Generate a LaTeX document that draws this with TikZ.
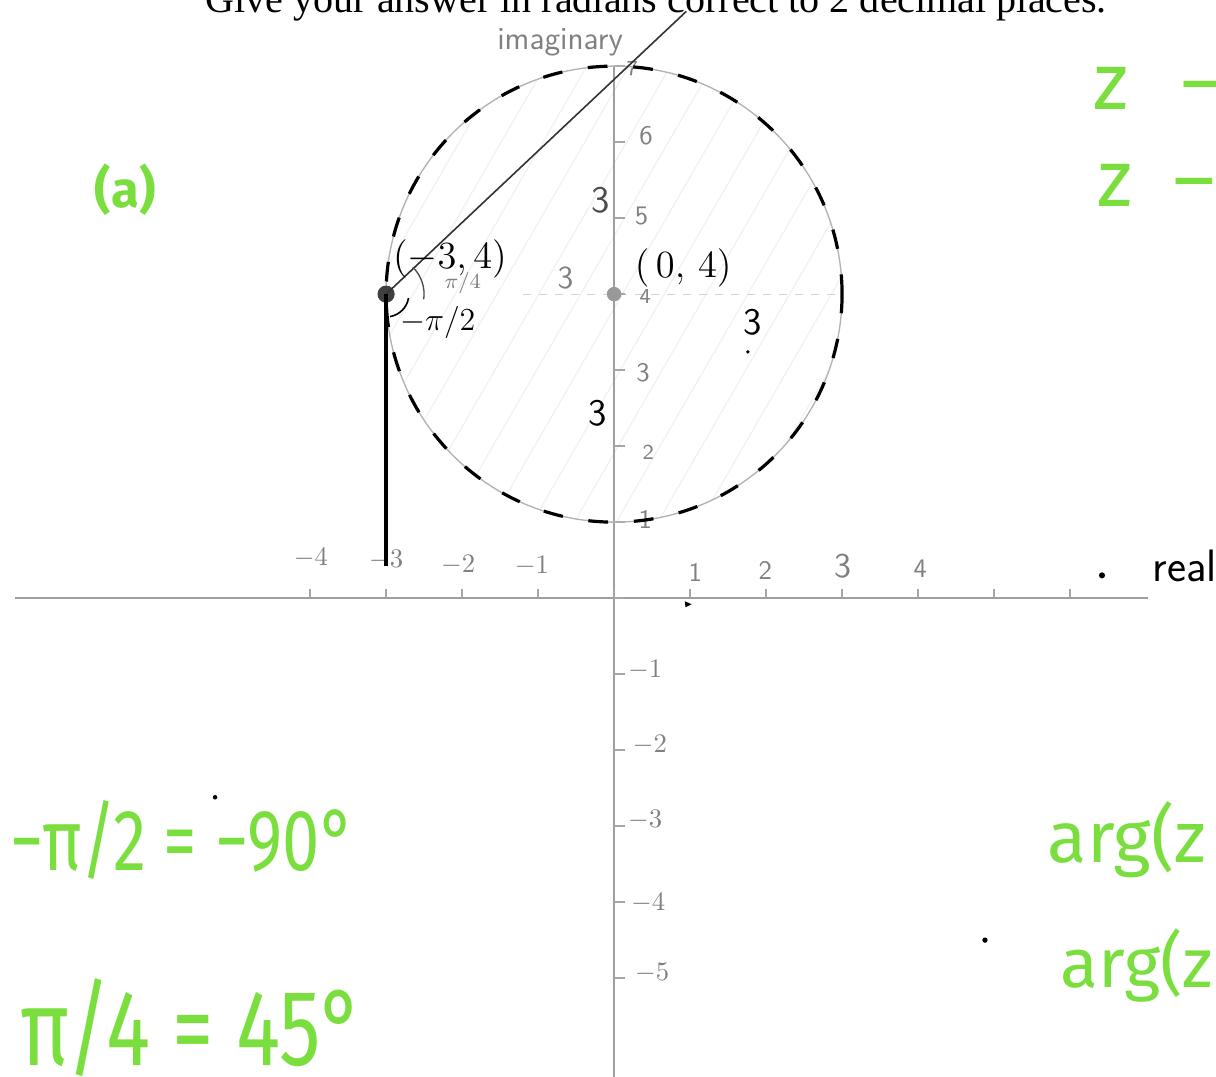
\documentclass[tikz,border=0pt]{standalone}
\usepackage{fontspec}
\usepackage{amsmath}
\newfontfamily\printfont{Liberation Serif}
\newfontfamily\markerfont{Fira Sans}
\usetikzlibrary{calc}
\definecolor{marker}{HTML}{7ADF3E}
\definecolor{pencil}{gray}{0.5}

\begin{document}
\begin{tikzpicture}[dot/.style={circle, draw, fill, inner sep=0pt, minimum size=5pt},
    pen/.style={font=\sffamily\fontsize{10}{12}\selectfont, text=pencil, inner sep=1pt},
    ink/.style={font=\sffamily\fontsize{14}{16}\selectfont, text=black, inner sep=1pt},
    hi/.style={font=\markerfont, text=marker, inner sep=0pt},
    axis/.style={draw=gray!75, line width=0.6pt},
    tickmark/.style={draw=gray!70, line width=0.5pt}]

    \useasboundingbox (-8.08,-6.29) rectangle (7.92,7.87);
    \clip (-8.08,-6.29) rectangle (7.92,7.87);
    \fill[white] (-8.08,-6.29) rectangle (7.92,7.87);

    % printed question (cut off)
    \node[anchor=base west, font=\printfont\fontsize{15}{18}\selectfont, inner sep=0pt] (task) at (-5.38,7.70) {Give your answer in radians correct to 2 decimal places.};

    % shading of the disc
    \begin{scope}
        \clip (0,4) circle (3);
        \foreach \s in {-16,...,6} \draw[gray!12, line width=0.4pt] (\s*0.55,0) -- ++(60:10);
    \end{scope}
    \draw[gray!35, dashed] (-1.2,4) -- (3,4);

    % axes
    \coordinate (xl) at (-7.88,0);
    \coordinate (xr) at (7.03,0);
    \coordinate (yt) at (0,7.0);
    \coordinate (yb) at (0,-6.3);
    \draw[axis] (xl) -- (xr);
    \draw[axis] (yt) -- (yb);
    \foreach \x in {-4,...,6} \draw[tickmark] (\x,0) -- (\x,0.12);
    \foreach \y in {-5,...,7} \draw[tickmark] (0,\y) -- (0.14,\y);

    % tick labels
    \node[pen] (xm4) at (-3.99,0.53) {$-4$};
    \node[pen] (xm3) at (-3.0,0.50) {$-3$};
    \node[pen] (xm2) at (-2.05,0.43) {$-2$};
    \node[pen] (xm1) at (-1.08,0.42) {$-1$};
    \node[pen] (x1) at (1.07,0.34) {1};
    \node[pen] (x2) at (1.99,0.37) {2};
    \node[pen, font=\sffamily\fontsize{13}{14}\selectfont] (x3) at (3.01,0.42) {3};
    \node[pen] (x4) at (4.03,0.39) {4};
    \node[pen, font=\sffamily\fontsize{8}{10}\selectfont] (y7) at (0.24,6.97) {7};
    \node[pen] (y6) at (0.42,6.09) {6};
    \node[pen] (y5) at (0.36,5.03) {5};
    \node[pen, font=\sffamily\fontsize{8}{10}\selectfont] (y4) at (0.41,3.97) {4};
    \node[pen] (y3) at (0.38,2.96) {3};
    \node[pen, font=\sffamily\fontsize{8}{10}\selectfont] (y2) at (0.45,1.92) {2};
    \node[pen] (y1) at (0.41,1.03) {1};
    \node[pen] (ym1) at (0.41,-0.95) {$-1$};
    \node[pen] (ym2) at (0.47,-1.93) {$-2$};
    \node[pen] (ym3) at (0.41,-2.92) {$-3$};
    \node[pen] (ym4) at (0.45,-4.01) {$-4$};
    \node[pen] (ym5) at (0.50,-4.93) {$-5$};
    \node[ink, font=\sffamily\fontsize{17}{18}\selectfont] (re) at (7.51,0.43) {real};
    \node[pen, font=\sffamily\fontsize{12}{14}\selectfont] (im) at (-0.71,7.32) {imaginary};

    % circle |z-4i| = 3
    \draw[gray!60, line width=0.5pt] (0,4) circle (3);
    \draw[black, line width=1.2pt, dash pattern=on 0.26cm off 0.34cm] (0,4) circle (3);
    \node[dot, fill=gray!80, draw=gray!80] (c) at (0,4) {};
    \node[dot, fill=black!75, draw=black!75, minimum size=6pt] (p) at (-3,4) {};

    % rays from (-3,4)
    \coordinate (ray) at (0.95,7.72);
    \coordinate (foot) at (-3,0.42);
    \draw[black!80, line width=0.6pt] (p.center) -- (ray);
    \draw[black, line width=1.3pt] (p.center) -- (foot);
    \draw[black!70, line width=0.5pt] ($(p.center)+(45:0.5)$) arc[start angle=45, end angle=-8, radius=0.5];
    \draw[black, line width=0.6pt] ($(p.center)+(-10:0.3)$) arc[start angle=-10, end angle=-80, radius=0.3];

    % labels in the disc
    \node[ink] (pl) at (-2.16,4.47) {$(-3,4)$};
    \node[pen, font=\sffamily\fontsize{8}{10}\selectfont] (qa) at (-1.99,4.14) {$\pi/4$};
    \node[ink, font=\sffamily\fontsize{13}{14}\selectfont] (ha) at (-2.32,3.63) {$-\pi/2$};
    \node[ink] (cl) at (0.91,4.34) {$(\,0,\,4)$};
    \node[ink, text=black!70] (r1) at (-0.18,5.24) {3};
    \node[pen, font=\sffamily\fontsize{12}{14}\selectfont] (r2) at (-0.64,4.21) {3};
    \node[ink] (r3) at (1.82,3.63) {3};
    \node[ink] (r4) at (-0.21,2.43) {3};

    % stray marks
    \fill (6.42,0.30) circle (0.04);
    \fill (4.88,-4.50) circle (0.035);
    \fill (-5.25,-2.62) circle (0.03);
    \fill (1.76,3.24) circle (0.025);
    \fill (0.93,-0.04) -- (1.02,-0.08) -- (0.94,-0.12) -- cycle;

    % green notes
    \node[hi, font=\markerfont\bfseries\fontsize{19}{22}\selectfont] (part) at (-6.43,5.37) {(a)};
    \node[hi, anchor=west, font=\markerfont\fontsize{30}{34}\selectfont] (za) at (6.30,6.71) {z\,\,\,\,–};
    \node[hi, anchor=west, font=\markerfont\fontsize{30}{34}\selectfont] (zb) at (6.36,5.43) {z\,\,\,–};
    \node[hi, anchor=west, font=\markerfont\fontsize{25}{28}\selectfont] (deg1) at (-7.95,-3.18) {\scalebox{1}[1.3]{−π/2 = −90°}};
    \node[hi, anchor=base west, font=\markerfont\fontsize{31}{34}\selectfont] (deg2) at (-7.82,-6.15) {\scalebox{1}[1.3]{π/4 = 45°}};
    \node[hi, anchor=west, font=\markerfont\fontsize{27}{30}\selectfont] (arga) at (5.70,-3.18) {arg(z};
    \node[hi, anchor=west, font=\markerfont\fontsize{26}{30}\selectfont] (argb) at (5.87,-4.83) {arg(z};
\end{tikzpicture}
\end{document}
